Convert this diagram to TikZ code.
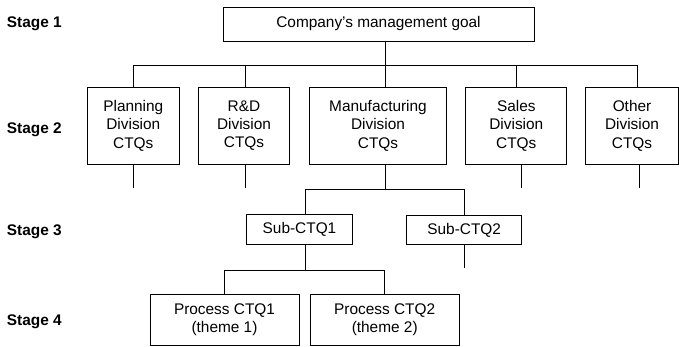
\documentclass[tikz,border=0pt]{standalone}
\usepackage{fontspec}
\setmainfont{Liberation Sans}
\tikzset{
  box/.style={draw,line width=1pt,align=center,inner sep=0pt,font=\fontsize{15.4}{18.3}\selectfont},
  stage/.style={anchor=west,inner sep=0pt,font=\fontsize{15.4}{18.3}\selectfont\bfseries},
  link/.style={line width=1pt},
}
\begin{document}
\begin{tikzpicture}[x=1pt,y=-1pt]
	\useasboundingbox (0,0) rectangle (679,346);
	% stage labels
	\node[stage] (s1) at (6.7,24) {Stage 1};
	\node[stage] (s2) at (6.7,130) {Stage 2};
	\node[stage] (s3) at (6.7,231.7) {Stage 3};
	\node[stage] (s4) at (6.7,321.7) {Stage 4};
	% stage 1
	\node[box,minimum width=311,minimum height=34] (goal) at (378.5,24) {Company’s management goal};
	% stage 2
	\node[box,minimum width=92,minimum height=76.7] (plan) at (133.3,125.7) {Planning\\Division\\CTQs};
	\node[box,minimum width=90.6,minimum height=76.7] (rnd) at (244,125.7) {R\&D\\Division\\CTQs};
	\node[box,minimum width=137.4,minimum height=76.7] (mfg) at (378,125.7) {Manufacturing\\Division\\CTQs};
	\node[box,minimum width=100.7,minimum height=76.7] (sales) at (516.3,125.7) {Sales\\Division\\CTQs};
	\node[box,minimum width=92.6,minimum height=76.7] (other) at (632,125.7) {Other\\Division\\CTQs};
	% stage 3
	\node[box,minimum width=105.6,minimum height=30] (sub1) at (299.5,229.2) {Sub-CTQ1};
	\node[box,minimum width=115,minimum height=29] (sub2) at (464.2,230) {Sub-CTQ2};
	% stage 4
	\node[box,minimum width=149,minimum height=51] (proc1) at (224.5,319.5) {Process CTQ1\\(theme 1)};
	\node[box,minimum width=149.3,minimum height=51] (proc2) at (384.7,319.5) {Process CTQ2\\(theme 2)};
	% junctions
	\coordinate (bus1) at (0,65);
	\coordinate (bus2) at (0,189.3);
	\coordinate (bus3) at (0,270);
	\coordinate (stub2) at (0,187.5);
	\coordinate (stub3) at (0,268);
	% stage 1 to stage 2
	\draw[link] ([xshift=7.2]goal.south) -- ([xshift=7.2]goal.south |- bus1);
	\draw[link] (plan.north |- bus1) -- ([xshift=5.7]other.north |- bus1);
	\foreach \n/\s in {plan/0,rnd/1.7,mfg/7.5,sales/0.4,other/5.7}
		\draw[link] ([xshift=\s]\n.north) -- ([xshift=\s]\n.north |- bus1);
	\foreach \n/\s in {plan/0,rnd/1.7,sales/5.2,other/7}
		\draw[link] ([xshift=\s]\n.south) -- ([xshift=\s]\n.south |- stub2);
	% stage 2 to stage 3
	\draw[link] ([xshift=7.2]mfg.south) -- ([xshift=7.2]mfg.south |- bus2);
	\draw[link] ([xshift=5.5]sub1.north) -- ([xshift=5.5]sub1.north |- bus2) -- (sub2.north |- bus2) -- (sub2.north);
	\draw[link] (sub2.south) -- (sub2.south |- stub3);
	% stage 3 to stage 4
	\draw[link] ([xshift=5.5]sub1.south) -- ([xshift=5.5]sub1.south |- bus3);
	\draw[link] (proc1.north) -- (proc1.north |- bus3) -- (proc2.north |- bus3) -- (proc2.north);
\end{tikzpicture}
\end{document}
